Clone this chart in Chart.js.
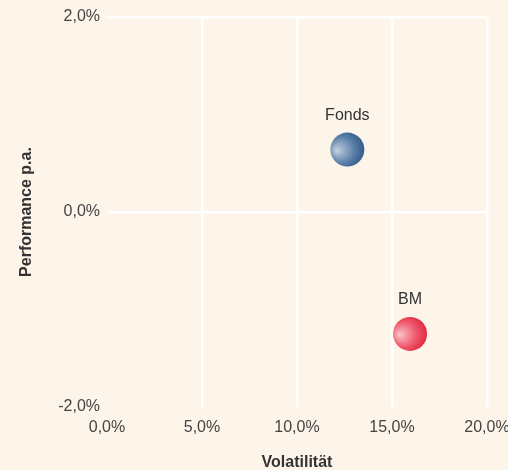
<!DOCTYPE html>
<html>
<head>
<meta charset="utf-8">
<script src="https://cdn.jsdelivr.net/npm/chart.js@4.4.1/dist/chart.umd.min.js"></script>
<style>
    html, body { margin: 0; padding: 0; background: #fdf5e9; }
    #box { width: 508px; height: 470px; }
</style>
</head>
<body>
<div id="box"><canvas id="grafico"></canvas></div>
<script>
"use strict";

// dati
const nomi        = ["Fonds", "BM"];
const volatilita  = [12.65, 15.95];
const performance = [0.64, -1.25];
const coloriScuri  = ["#2c5684", "#e0203a"];
const coloriMedi   = ["#5a7fa7", "#ee5468"];
const coloriChiari = ["#c4d3e2", "#f9c4cb"];
const tickX = [0, 5, 10, 15, 20];
const tickY = [-2, 0, 2];

const FONT = "'Liberation Sans', Arial, sans-serif";

function percento(v) {
    return v.toFixed(1).replace(".", ",") + "%";
}

// gradiente radiale per ogni bolla (luce da sinistra)
function sfumatura(ctx) {
    let chart = ctx.chart;
    let i = ctx.dataIndex;
    if (!chart.chartArea || !chart.scales.x) return coloriMedi[i];
    let x = chart.scales.x.getPixelForValue(volatilita[i]);
    let y = chart.scales.y.getPixelForValue(performance[i]);
    let g = chart.ctx.createRadialGradient(x - 11, y + 1, 0, x - 3, y, 22);
    g.addColorStop(0, coloriChiari[i]);
    g.addColorStop(0.6, coloriMedi[i]);
    g.addColorStop(1, coloriScuri[i]);
    return g;
}

const sfondo = {
    id: "sfondo",
    beforeDraw(chart) {
        let c = chart.ctx;
        c.save();
        c.fillStyle = "#fdf5e9";
        c.fillRect(0, 0, chart.width, chart.height);
        c.restore();
    }
};

const etichette = {
    id: "etichette",
    afterDatasetsDraw(chart) {
        let c = chart.ctx;
        let meta = chart.getDatasetMeta(0);
        c.save();
        c.font = "16px " + FONT;
        c.fillStyle = "#333333";
        c.textAlign = "center";
        c.textBaseline = "middle";
        meta.data.forEach(function (p, i) {
            c.fillText(nomi[i], p.x, p.y - 34);
        });
        c.restore();
    }
};

new Chart(document.getElementById("grafico"), {
    type: "scatter",
    data: {
        datasets: [{
            data: volatilita.map((v, i) => ({ x: v, y: performance[i] })),
            pointRadius: 17,
            pointHoverRadius: 17,
            pointBorderWidth: 0,
            backgroundColor: sfumatura
        }]
    },
    options: {
        responsive: true,
        maintainAspectRatio: false,
        animation: false,
        layout: { padding: { top: 16, left: 0, right: 21, bottom: 0 } },
        plugins: {
            legend: { display: false },
            tooltip: { enabled: false }
        },
        scales: {
            x: {
                min: 0, max: 20,
                afterBuildTicks: s => { s.ticks = tickX.map(v => ({ value: v })); },
                // niente padding automatico: le etichette possono uscire dal bordo
                afterFit: s => { s.paddingLeft = 0; s.paddingRight = 0; s.height = 63; },
                border: { display: false },
                grid: {
                    color: c => c.tick && c.tick.value === 0 ? "rgba(0,0,0,0)" : "#ffffff",
                    lineWidth: 2.5,
                    drawTicks: false
                },
                ticks: {
                    padding: 11,
                    color: "#444444",
                    font: { family: FONT, size: 16 },
                    callback: v => percento(v)
                },
                title: {
                    display: true,
                    text: "Volatilität",
                    color: "#333333",
                    padding: { top: 0, bottom: -2 },
                    font: { family: FONT, size: 16, weight: "bold" }
                }
            },
            y: {
                min: -2, max: 2,
                afterBuildTicks: s => { s.ticks = tickY.map(v => ({ value: v })); },
                afterFit: s => { s.paddingTop = 0; s.paddingBottom = 0; s.width = 107; },
                border: { display: false },
                grid: {
                    color: c => c.tick && c.tick.value === -2 ? "rgba(0,0,0,0)" : "#ffffff",
                    lineWidth: 2.5,
                    drawTicks: false
                },
                ticks: {
                    padding: 7,
                    color: "#444444",
                    font: { family: FONT, size: 16 },
                    callback: v => percento(v)
                },
                title: {
                    display: true,
                    text: "Performance p.a.",
                    color: "#333333",
                    padding: { top: 17, bottom: 0 },
                    font: { family: FONT, size: 16, weight: "bold" }
                }
            }
        }
    },
    plugins: [sfondo, etichette]
});
</script>
</body>
</html>
